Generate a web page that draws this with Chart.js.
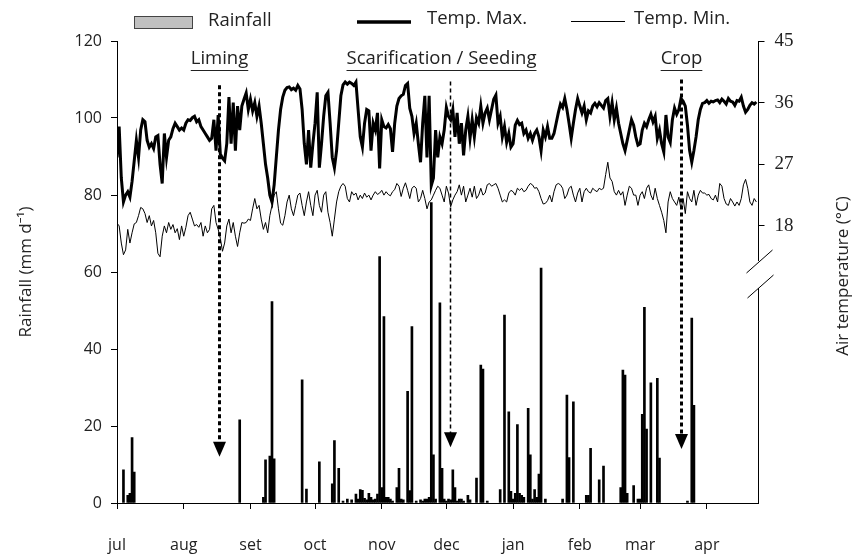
<!DOCTYPE html>
<html>
<head>
<meta charset="utf-8">
<script src="https://cdn.jsdelivr.net/npm/chart.js@4"></script>
<style>
html,body{margin:0;padding:0;background:#fff;}
#wrap{width:855px;height:559px;}
</style>
</head>
<body>
<div id="wrap"><canvas id="canvas__weather" width="855" height="559"></canvas></div>
<script>
"use strict"

// x axis is a day counter starting at 1 july
const monthStart = [0, 31, 62, 92, 123, 153, 184, 215, 243, 274];
const monthLabel = ["jul", "aug", "set", "oct", "nov", "dec", "jan", "feb", "mar", "apr"];
const lastDay = 298;

// right axis only shows these values
const tempTicks = [18, 27, 36, 45];

// daily rainfall (mm d-1), only days with rain
const rainDay = [3, 5, 6, 7, 8, 57, 68, 69, 71, 72,
    73, 86, 88, 94, 100, 101, 103, 105, 107, 109,
    111, 112, 113, 114, 115, 116, 117, 118, 119, 120,
    121, 122, 123, 124, 125, 126, 127, 128, 130, 131,
    132, 133, 135, 136, 137, 139, 141, 142, 143, 144,
    145, 146, 147, 148, 150, 151, 152, 153, 154, 155,
    156, 157, 158, 159, 160, 161, 163, 164, 167, 169,
    170, 172, 178, 180, 182, 183, 184, 185, 186, 187,
    188, 189, 191, 192, 193, 194, 195, 196, 197, 199,
    207, 209, 210, 212, 218, 219, 220, 224, 226, 234,
    235, 236, 237, 240, 242, 243, 244, 245, 246, 248,
    251, 252, 265, 267, 268];
const rainMm = [8.6, 2, 2.5, 17, 8, 21.6, 1.5, 11.2, 12.2, 52.3,
    11.5, 32, 3.6, 10.7, 5, 16.2, 9, 0.5, 1, 0.8,
    2.3, 1, 3.5, 3.3, 1.2, 0.8, 2.5, 1.5, 0.8, 1,
    2.3, 64, 4, 48.4, 1.5, 1.5, 1, 0.5, 4, 9,
    1, 0.8, 29, 3.2, 45.8, 0.5, 0.8, 0.5, 1, 1,
    1.5, 78, 12.5, 1, 52, 9, 1, 0.5, 1, 0.8,
    8.6, 4, 0.5, 1, 1, 0.5, 2, 0.8, 6.5, 35.8,
    34.8, 0.5, 3.5, 48.8, 23.7, 3, 1, 2.5, 20.4, 2.5,
    2, 1.5, 24.6, 12.5, 1, 3.5, 1.5, 7.5, 61, 1,
    1, 28, 11.8, 26.3, 2, 2, 14.2, 6, 9.6, 4,
    34.5, 33.2, 2.5, 4.5, 1, 1, 23, 50.8, 19.2, 31.2,
    32.4, 11.7, 0.5, 48, 25.4];

// daily maximum air temperature (°C), one value per day from 1 july
const tempMax = [
    28, 32.5, 25, 21.5, 22.5, 23, 22.2, 24.5, 27.5, 30.5,
    28, 32, 33.5, 33.2, 30.5, 29.5, 30, 29.3, 31, 31.2,
    27, 24.2, 31.5, 28, 30.5, 31, 32.2, 33, 32.5, 32,
    32.3, 32, 33, 33.5, 33.4, 33.8, 34, 33.2, 33.5, 32.5,
    32, 31.5, 31, 30.5, 30.8, 33.5, 29, 34.2, 28.5, 27.9,
    27.5, 30, 36.8, 30, 36, 29, 35.5, 32, 35.5, 36.5,
    37.4, 35, 36.5, 34.8, 36, 34, 35.5, 33, 30, 27,
    25, 22.5, 21.5, 24, 28, 32, 35, 36.8, 37.8, 38.2,
    38.3, 37.9, 38.1, 37.8, 38.5, 38, 35, 30, 27, 32,
    26.5, 30, 33, 37.5, 26.5, 30, 34, 37, 37.5, 33,
    28, 26.5, 29, 33, 37, 38.6, 39, 38.7, 39, 38.8,
    38.5, 39, 35, 31, 29.5, 33, 35, 34.8, 29, 33,
    32, 34.5, 26.4, 33.5, 32.5, 32.3, 32.8, 32.2, 28.8, 33,
    35.5, 36.6, 37, 37.2, 38.5, 38.8, 35.2, 34, 31.5, 33,
    30, 27.3, 33, 37, 28, 37, 23.9, 25, 32, 28,
    31, 30, 32, 35.3, 34, 33.5, 35, 31, 34.5, 30,
    33, 28.3, 32, 34, 30.8, 33.5, 31, 33.8, 33, 35.5,
    33, 34.5, 35.2, 33.5, 35, 36.5, 37.1, 33, 34, 31,
    32.5, 30.2, 31.5, 29.5, 30, 32.7, 33.4, 32.8, 33, 31.5,
    32, 30.8, 31.5, 30.5, 31.5, 32, 31, 29, 32, 31,
    32.5, 30.8, 30.8, 31.5, 33, 34.5, 35.8, 35.3, 36.6, 35,
    33, 30.8, 33, 35, 36.6, 35.5, 34.5, 35.5, 33.5, 34.8,
    34.5, 35.5, 35.9, 35.4, 36, 35.6, 35.2, 36.3, 36.6, 34,
    36, 33.5, 35.2, 33, 31.5, 30, 29, 30.5, 32, 33.5,
    32.7, 31, 29.8, 30, 32, 33, 32.5, 33.5, 34.3, 33.2,
    34, 30.8, 32, 30, 28.8, 34.2, 31, 30.2, 33.5, 35.2,
    34.3, 35, 36.6, 36.2, 35.5, 32.7, 29, 27.3, 29, 31,
    33.5, 35, 35.9, 36, 36.3, 35.9, 36.2, 36.1, 36.3, 36.4,
    36, 36.5, 36.2, 35.8, 36.6, 36.2, 36.1, 35.6, 36.3, 36.2,
    36.8, 35.5, 34.6, 35, 35.6, 36, 35.8, 36.1];

// daily minimum air temperature (°C)
const tempMin = [
    18.4, 18, 15.5, 13.8, 14.5, 17.5, 15.5, 17, 18.3, 18.5,
    19.5, 20.7, 20.5, 19.8, 18.5, 19.5, 18, 18.8, 17, 14,
    13.5, 16.5, 18, 17, 18.5, 17.5, 18.2, 17, 17.6, 16,
    18, 16.5, 17.8, 19.5, 20, 19, 18, 18.2, 17.8, 18.5,
    16.5, 18, 17, 17.5, 20.5, 21, 18.5, 17.5, 16.2, 14.3,
    15.5, 18, 19, 17, 18.5, 16.5, 15, 17, 18.5, 18.4,
    18.5, 19, 18.8, 20.5, 22, 20.5, 21, 19, 17.5, 18.5,
    17, 19.5, 21, 22.5, 23, 20.5, 18.4, 18.1, 19.5, 21.5,
    22.5, 20.5, 19.5, 21, 22.5, 22.8, 21, 19.5, 21.5, 23,
    21, 19.5, 22.5, 23.2, 21, 20, 22.5, 23, 20, 18.5,
    16.5, 19, 21.5, 23, 23.8, 24.2, 23.8, 22, 21.5, 23,
    22.5, 22.8, 21.8, 22.5, 22, 22.8, 22.2, 22.5, 21.8, 22.5,
    23, 22.6, 22.8, 23.2, 22.5, 23, 22.6, 22.4, 23, 23.3,
    24.2, 23.8, 22.3, 23.5, 24.3, 23.2, 22, 23.5, 23.8, 23.5,
    21.5, 22, 23.2, 22, 20.5, 21.5, 21.8, 22.5, 23.2, 23.8,
    23.5, 22.5, 21.5, 23.8, 22.8, 20.8, 21.8, 22.5, 23, 24,
    22.5, 23.8, 21.5, 22.5, 23.5, 22.2, 23.8, 22, 22.5, 23.5,
    22.5, 22.8, 24, 24.2, 23.8, 24, 24.2, 23.5, 22.5, 21.5,
    21.8, 21.5, 22.8, 23.2, 23, 22.5, 23.5, 23.2, 23.5, 23,
    23.2, 23.8, 24.2, 24, 23.5, 23.6, 23, 22, 21.2, 21.3,
    21.7, 22.5, 21.5, 23, 24, 24.2, 24, 23.5, 22, 22.5,
    23.5, 23.8, 22.5, 21.5, 22.8, 23.5, 21.5, 23, 23.5, 23,
    22.8, 23.5, 23.2, 23, 23.5, 23.3, 23.5, 25.5, 27.3, 25,
    24.5, 23, 22.5, 23.2, 22.5, 23, 21, 22.5, 23.8, 23.5,
    22.5, 22.5, 21, 22.5, 23, 22, 23.5, 24, 22.5, 21.8,
    23.5, 22, 21, 20, 18.8, 17, 21.5, 23, 22, 21.5,
    21, 22.2, 20.5, 22, 19.8, 23, 22, 21.5, 23.2, 21,
    22.5, 23.2, 22.8, 22.8, 22.5, 22.6, 22, 21.8, 22.5, 21.5,
    24.2, 23.8, 22, 21.2, 21, 22, 21.5, 20.9, 21.5, 21,
    22, 24, 24.8, 23.5, 21.5, 21, 22, 21.5];

// field operations marked with arrows
const eventName = ["Liming", "Scarification / Seeding", "Crop"];
const eventDay = [47.3, 154.7, 261.9];

const FONT_SANS = "'Open Sans', 'Noto Sans', sans-serif";
const FONT_SERIF = "'Liberation Serif', 'DejaVu Serif', serif";
const COLOR_BLACK = "#000";
const COLOR_TEXT = "#222";

// arrow look, per event
const arrowStyle = [
    {width: 3, dash: [4, 3], top: 108.5, tip: 12, textShift: 0},
    {width: 1.5, dash: [4, 3], top: 109.5, tip: 14.5, textShift: -9},
    {width: 3, dash: [4, 3], top: 110, tip: 14, textShift: 0}
];

function toPoints(arrX, arrY){
    return arrX.map(function(x, i){ return {x: x, y: arrY[i]}; });
}
function dayPoints(arrY){
    return arrY.map(function(y, i){ return {x: i, y: y}; });
}

/*
Extra drawing that Chart.js has no option for:
event arrows, broken right axis, legend and right axis title.
*/
const plotDecor = {
    id: "plotDecor",
    afterDatasetsDraw: function(chart){
        const ctx = chart.ctx;
        const xScale = chart.scales.x;
        const yScale = chart.scales.y;
        ctx.save();
        for(let i = 0; i < eventDay.length; i++){
            const st = arrowStyle[i];
            const px = Math.round(xScale.getPixelForValue(eventDay[i])) + 0.5;
            const yTop = yScale.getPixelForValue(st.top);
            const yTip = yScale.getPixelForValue(st.tip);
            ctx.strokeStyle = COLOR_BLACK;
            ctx.lineWidth = st.width;
            ctx.setLineDash(st.dash);
            ctx.beginPath();
            ctx.moveTo(px, yTop);
            ctx.lineTo(px, yTip - 12);
            ctx.stroke();
            ctx.setLineDash([]);
            ctx.fillStyle = COLOR_BLACK;
            ctx.beginPath();
            ctx.moveTo(px - 6.5, yTip - 15);
            ctx.lineTo(px + 6.5, yTip - 15);
            ctx.lineTo(px, yTip);
            ctx.closePath();
            ctx.fill();

            // underlined label above the arrow
            ctx.font = "18.5px " + FONT_SANS;
            ctx.fillStyle = COLOR_TEXT;
            ctx.textAlign = "center";
            ctx.textBaseline = "middle";
            const tx = px + st.textShift;
            const w = ctx.measureText(eventName[i]).width;
            ctx.fillText(eventName[i], tx, 59);
            ctx.lineWidth = 1;
            ctx.strokeStyle = COLOR_TEXT;
            ctx.beginPath();
            ctx.moveTo(tx - w / 2, 70.5);
            ctx.lineTo(tx + w / 2, 70.5);
            ctx.stroke();
        }
        ctx.restore();
    },
    afterDraw: function(chart){
        const ctx = chart.ctx;
        const area = chart.chartArea;
        const ax = Math.round(area.right) + 0.5;
        ctx.save();

        // break in the right axis
        ctx.fillStyle = "#fff";
        ctx.fillRect(ax - 2, 261, 4, 27);
        ctx.strokeStyle = COLOR_BLACK;
        ctx.lineWidth = 1;
        ctx.beginPath();
        ctx.moveTo(ax - 13, 273);
        ctx.lineTo(ax + 13, 250);
        ctx.moveTo(ax - 12, 298);
        ctx.lineTo(ax + 14, 275);
        ctx.stroke();

        // legend
        ctx.font = "18.5px " + FONT_SANS;
        ctx.textAlign = "left";
        ctx.textBaseline = "middle";
        ctx.fillStyle = "#c0c0c0";
        ctx.fillRect(134, 16, 58, 12);
        ctx.strokeStyle = "#444";
        ctx.strokeRect(134.5, 16.5, 58, 12);
        ctx.fillStyle = COLOR_TEXT;
        ctx.fillText("Rainfall", 208, 21);

        ctx.strokeStyle = COLOR_BLACK;
        ctx.lineWidth = 3.5;
        ctx.beginPath();
        ctx.moveTo(357, 22);
        ctx.lineTo(411, 22);
        ctx.stroke();
        ctx.fillText("Temp. Max.", 427, 19);

        ctx.lineWidth = 1;
        ctx.beginPath();
        ctx.moveTo(571, 21.5);
        ctx.lineTo(625, 21.5);
        ctx.stroke();
        ctx.fillText("Temp. Min.", 634, 19);

        // right axis title reads bottom to top
        ctx.font = "17px " + FONT_SANS;
        ctx.translate(843, (area.top + area.bottom) / 2 + 4);
        ctx.rotate(-Math.PI / 2);
        ctx.textAlign = "center";
        ctx.fillText("Air temperature (°C)", 0, 0);
        ctx.restore();
    }
};

const chart = new Chart("canvas__weather", {
    type: "bar",
    data: {
        datasets: [
            {
                type: "line",
                label: "Temp. Max.",
                data: dayPoints(tempMax),
                yAxisID: "y2",
                borderColor: COLOR_BLACK,
                borderWidth: 3,
                pointRadius: 0,
                tension: 0
            },
            {
                type: "line",
                label: "Temp. Min.",
                data: dayPoints(tempMin),
                yAxisID: "y2",
                borderColor: COLOR_BLACK,
                borderWidth: 1,
                pointRadius: 0,
                tension: 0
            },
            {
                type: "bar",
                label: "Rainfall",
                data: toPoints(rainDay, rainMm),
                yAxisID: "y",
                backgroundColor: COLOR_BLACK,
                borderWidth: 0,
                barThickness: 2
            }
        ]
    },
    options: {
        responsive: false,
        animation: false,
        devicePixelRatio: 1,
        layout: {padding: {top: 41, left: 0, right: 0, bottom: 0}},
        plugins: {
            legend: {display: false},
            tooltip: {enabled: false}
        },
        scales: {
            x: {
                type: "linear",
                min: 0,
                max: lastDay,
                offset: false,
                afterBuildTicks: function(scale){
                    scale.ticks = monthStart.map(function(v){ return {value: v}; });
                },
                afterFit: function(scale){ scale.height = 56; },
                ticks: {
                    autoSkip: false,
                    maxRotation: 0,
                    padding: 27,
                    color: COLOR_TEXT,
                    font: {family: FONT_SANS, size: 16},
                    callback: function(value){
                        return monthLabel[monthStart.indexOf(value)];
                    }
                },
                grid: {
                    offset: false,
                    drawOnChartArea: false,
                    tickLength: 6,
                    color: COLOR_BLACK
                },
                border: {color: COLOR_BLACK, width: 1}
            },
            y: {
                position: "left",
                min: 0,
                max: 120,
                afterFit: function(scale){ scale.width = 117; },
                ticks: {
                    stepSize: 20,
                    padding: 9,
                    color: COLOR_TEXT,
                    font: {family: FONT_SANS, size: 16}
                },
                grid: {
                    drawOnChartArea: false,
                    tickLength: 6,
                    color: COLOR_BLACK
                },
                border: {color: COLOR_BLACK, width: 1},
                title: {
                    display: true,
                    text: "Rainfall (mm d⁻¹)",
                    color: COLOR_TEXT,
                    font: {family: FONT_SANS, size: 17},
                    padding: {top: 16, bottom: 0}
                }
            },
            y2: {
                position: "right",
                min: -22.45,
                max: 45,
                afterBuildTicks: function(scale){
                    scale.ticks = tempTicks.map(function(v){ return {value: v}; });
                },
                afterFit: function(scale){ scale.width = 96.5; },
                ticks: {
                    padding: 10,
                    color: COLOR_TEXT,
                    font: {family: FONT_SERIF, size: 19}
                },
                grid: {
                    drawOnChartArea: false,
                    tickLength: 6,
                    color: COLOR_BLACK
                },
                border: {color: COLOR_BLACK, width: 1}
            }
        }
    },
    plugins: [plotDecor]
});
</script>
</body>
</html>
